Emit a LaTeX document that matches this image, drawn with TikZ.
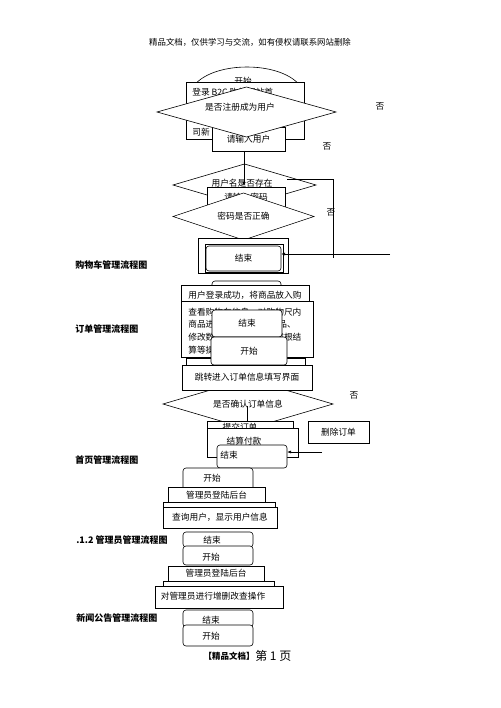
\documentclass[tikz,border=0pt]{standalone}
\usepackage{fontspec}
\setmainfont{Noto Sans CJK SC}
\usetikzlibrary{shapes.geometric}
\usetikzlibrary{arrows.meta}
\tikzset{pgp/.style={
  x=1pt,
  y=-1pt,
  line width=0.6pt,
  font=\fontsize{8.7}{10}\selectfont
}}
\tikzset{sz/.style 2 args={minimum width=#1pt, minimum height=#2pt}}
\tikzset{bx/.style={
  draw,
  fill=white,
  shape=rectangle,
  inner sep=0pt,
  outer sep=0pt
}}
\tikzset{rbx/.style={bx,rounded corners=3pt}}
\tikzset{dmd/.style={bx,shape=diamond,aspect=3}}
\tikzset{txt/.style={inner sep=0pt}}
\tikzset{ttl/.style={txt,anchor=west,font=\bfseries\fontsize{9}{10}\selectfont}}
\tikzset{arr/.style={-{Latex[length=4pt,width=3pt]}}}

\begin{document}
\begin{tikzpicture}[pgp]
    \useasboundingbox (0,0) rectangle (500,708);
    \node[txt,font=\fontsize{8.4}{10}\selectfont] (hdr) at (250,42)
      {精品文档，仅供学习与交流，如有侵权请联系网站删除};

    % Login / register
    \node[bx,shape=ellipse,sz={112}{56}] (st1) at (247,95) {};
    \node[txt] (st1t) at (243,81) {开始};
    \node[bx,sz={118}{57}] (login) at (245,110.5) {};
    \node[txt,anchor=west] (login1) at (192,92) {登录 B2C 购物网站首};
    \node[txt,anchor=west] (login2) at (192,132) {司新};
    \node[bx,sz={73}{24}] (inuser) at (248.5,139) {请输入用户};
    \node[dmd,sz={179}{50}] (reg) at (246.5,112) {};
    \node[txt] (regt) at (240,107) {是否注册成为用户};
    \node[txt] (no1) at (380,106) {否};
    \node[txt] (no2) at (327,146) {否};

    % User name / password
    \coordinate (a1s) at (244,151);
    \coordinate (a1e) at (244,186);
    \node[dmd,sz={143}{42}] (user) at (244.5,185) {};
    \node[txt] (usert) at (242,183) {用户名是否存在};
    \draw[arr] (a1s) -- (a1e);
    \node[bx,sz={78}{20}] (inpwd) at (246,197) {请输入密码};
    \node[dmd,sz={141}{47}] (pwd) at (243.5,216.5) {密码是否正确};
    \coordinate (b1) at (287,179);
    \coordinate (b2) at (333,179);
    \coordinate (b3) at (333,258);
    \draw (b1) -- (b2) -- (b3);
    \node[txt] (no3) at (331,212) {否};
    \node[bx,sz={90}{35}] (endo) at (243,255.5) {};
    \node[bx,sz={78}{28}] (endm) at (244,258) {};
    \node[rbx,sz={75}{25}] (end1) at (243.5,258.5) {结束};
    \coordinate (a2s) at (390,254);
    \draw[arr] (a2s) -- (a2s -| end1.east);
    \node[ttl] (cap1) at (75,265) {购物车管理流程图};

    % Cart
    \node[rbx,sz={69}{24}] (st2) at (246.5,293) {};
    \node[bx,sz={128}{20}] (cart1) at (245,295) {用户登录成功，将商品放入购};
    \node[bx,sz={132}{56}] (cart2) at (247,329) {};
    \node[txt,anchor=west] (cart2a) at (188,312) {查看购物车信息，对购物尺内};
    \node[txt,anchor=west] (cart2b) at (188,324) {商品进};
    \node[txt,anchor=east] (cart2c) at (296,324) {品、};
    \node[txt,anchor=west] (cart2d) at (188,337) {修改数量、删除商品、或根结};
    \node[txt,anchor=west] (cart2e) at (188,350) {算等操作};
    \node[bx,sz={119}{12}] (cart3) at (245.5,364) {};
    \node[rbx,sz={70}{27}] (end2) at (247,323.5) {结束};
    \node[rbx,sz={76}{28}] (st3) at (249,351) {开始};
    \node[ttl] (cap2) at (75,329) {订单管理流程图};

    % Order
    \node[dmd,sz={170}{50}] (conf) at (248,404) {是否确认订单信息};
    \node[bx,sz={130}{25}] (jump) at (247,377.5) {跳转进入订单信息填写界面};
    \node[txt] (no4) at (354,395) {否};
    \coordinate (c1) at (247,406);
    \node[bx,sz={86}{19}] (submit) at (250,430.5) {};
    \draw (c1) -- (c1 |- submit.north);
    \node[txt] (submitt) at (240,427.5) {提交订单};
    \node[bx,sz={91}{29}] (pay) at (252.5,442.5) {};
    \node[txt] (payt) at (244,441) {结算付款};
    \node[rbx,sz={70}{23}] (end3) at (252,456.5) {};
    \node[txt,anchor=west] (end3t) at (220,455) {结束};
    \coordinate (a3s) at (322,452);
    \draw[arr] (a3s) -- (a3s -| end3.east);
    \node[bx,sz={61}{22}] (del) at (338.5,432) {删除订单};
    \node[ttl] (cap3) at (75,460) {首页管理流程图};

    % Home page
    \node[rbx,sz={70}{22}] (st4) at (218,479) {};
    \node[txt] (st4t) at (212,478) {开始};
    \node[bx,sz={97}{16}] (adm1) at (216.5,495) {管理员登陆后台};
    \node[bx,sz={112}{6}] (adm1b) at (219,505) {};
    \node[bx,sz={114}{21}] (query) at (220,517.5) {查询用户，显示用户信息};
    \node[ttl] (cap4) at (76,540) {.1.2 管理员管理流程图};
    \node[rbx,sz={70}{15}] (end4) at (218,539.5) {};
    \node[txt] (end4t) at (212,540) {结束};

    % Admin
    \node[rbx,sz={70}{19}] (st5) at (218,555.5) {};
    \node[txt] (st5t) at (211,557) {开始};
    \node[bx,sz={96}{15}] (adm2) at (216,573.5) {管理员登陆后台};
    \node[bx,sz={111}{6}] (adm2b) at (218.5,584) {};
    \node[bx,sz={128}{22}] (oper) at (219,597) {};
    \node[txt] (opert) at (213,596) {对管理员进行增删改查操作};
    \node[ttl] (cap5) at (76,618) {新闻公告管理流程图};
    \node[rbx,sz={70}{17}] (end5) at (218,618.5) {};
    \node[txt] (end5t) at (211,620) {结束};
    \node[rbx,sz={70}{21}] (st6) at (218,635.5) {};
    \node[txt] (st6t) at (211,636) {开始};

    \node[txt,anchor=east,font=\bfseries\fontsize{8.5}{10}\selectfont] (ftr1) at (255,656) {【精品文档】};
    \node[txt,anchor=west,font=\fontsize{12}{14}\selectfont] (ftr2) at (255,656) {第 1 页};
\end{tikzpicture}
\end{document}
